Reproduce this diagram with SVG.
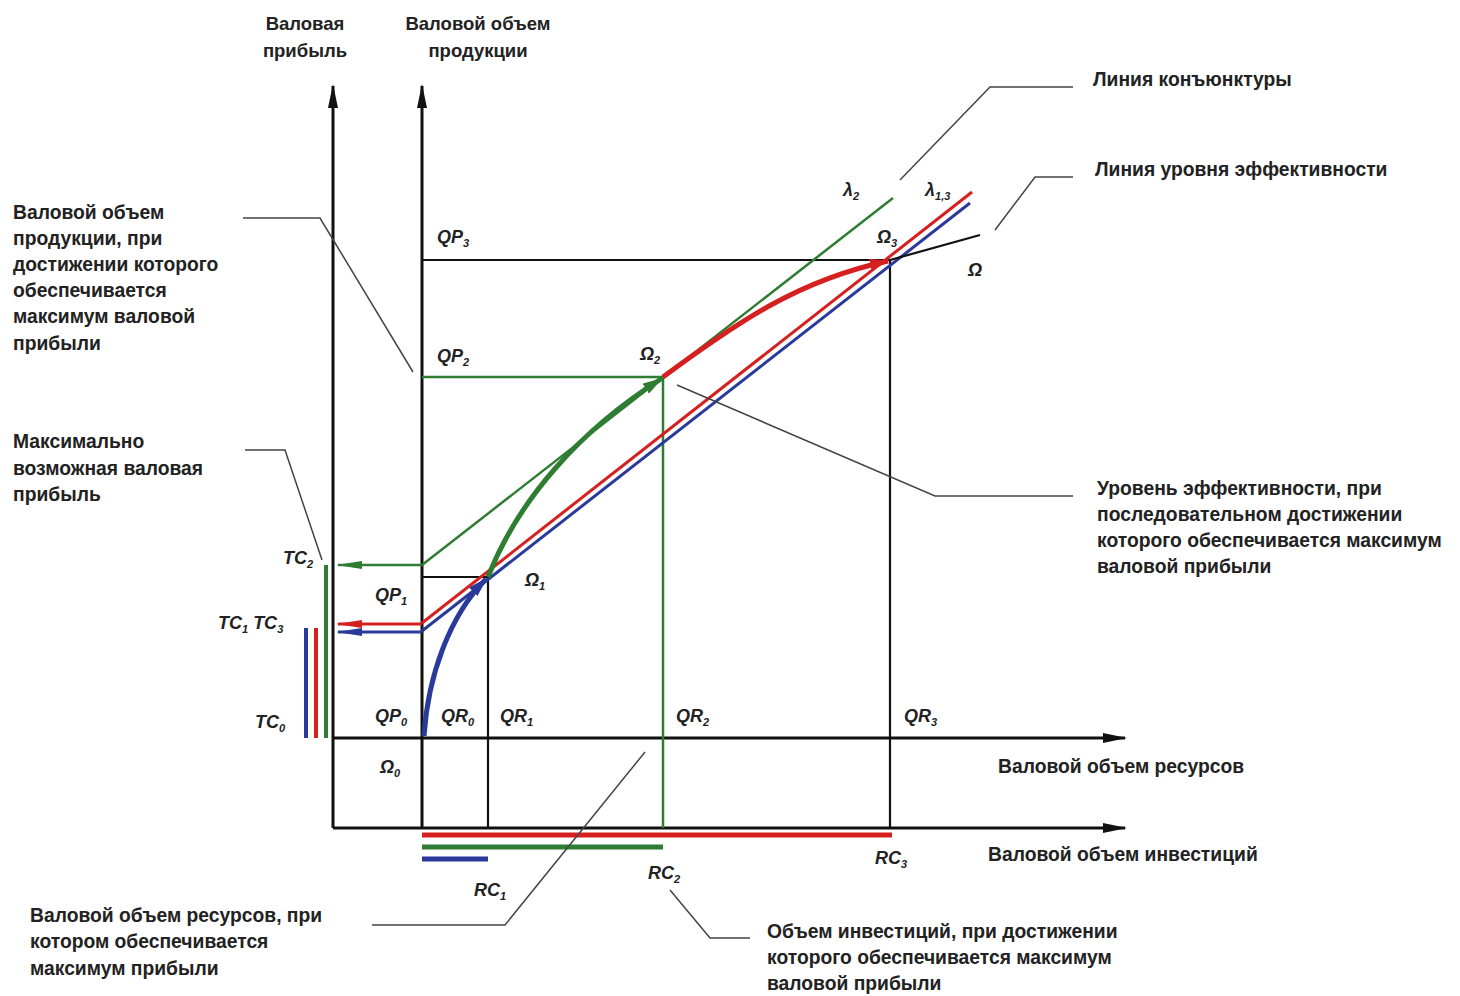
<svg xmlns="http://www.w3.org/2000/svg" width="1460" height="996" viewBox="0 0 1460 996">
<style>
.t{font-family:"Liberation Sans",Arial,sans-serif;font-weight:bold;font-size:19.3px;fill:#222}
.h{font-family:"Liberation Sans",Arial,sans-serif;font-weight:bold;font-size:18.5px;fill:#222}
.l{font-family:"Liberation Sans",Arial,sans-serif;font-weight:bold;font-style:italic;font-size:18px;fill:#222}
.s{font-size:11px}
.ax{stroke:#111;stroke-width:3;fill:none}
.bk{stroke:#111;stroke-width:2.2;fill:none}
.gr{stroke:#2e7d32;stroke-width:2.5;fill:none}
.rd{stroke:#d62020;stroke-width:3;fill:none}
.bl{stroke:#2a3a9a;stroke-width:3;fill:none}
.ld{stroke:#444;stroke-width:1.5;fill:none}
</style>
<defs>
<marker id="ak" viewBox="0 0 24 10" refX="22" refY="5" markerWidth="24" markerHeight="10" markerUnits="userSpaceOnUse" orient="auto"><path d="M0,0 L24,5 L0,10 Z" fill="#111"/></marker>
<marker id="ag" viewBox="0 0 26 8" refX="24" refY="4" markerWidth="26" markerHeight="8" markerUnits="userSpaceOnUse" orient="auto"><path d="M0,0 L26,4 L0,8 Z" fill="#2e7d32"/></marker>
<marker id="ar" viewBox="0 0 26 8" refX="24" refY="4" markerWidth="26" markerHeight="8" markerUnits="userSpaceOnUse" orient="auto"><path d="M0,0 L26,4 L0,8 Z" fill="#d62020"/></marker>
<marker id="ab" viewBox="0 0 26 8" refX="24" refY="4" markerWidth="26" markerHeight="8" markerUnits="userSpaceOnUse" orient="auto"><path d="M0,0 L26,4 L0,8 Z" fill="#2a3a9a"/></marker>
<marker id="cb" viewBox="0 0 20 12" refX="18" refY="6" markerWidth="20" markerHeight="12" markerUnits="userSpaceOnUse" orient="auto"><path d="M0,0 L20,6 L0,12 Z" fill="#2a3a9a"/></marker>
<marker id="cg" viewBox="0 0 20 12" refX="18" refY="6" markerWidth="20" markerHeight="12" markerUnits="userSpaceOnUse" orient="auto"><path d="M0,0 L20,6 L0,12 Z" fill="#2e7d32"/></marker>
<marker id="cr" viewBox="0 0 20 12" refX="18" refY="6" markerWidth="20" markerHeight="12" markerUnits="userSpaceOnUse" orient="auto"><path d="M0,0 L20,6 L0,12 Z" fill="#d62020"/></marker>
</defs>

<g id="axes">
<line class="ax" x1="333" y1="828" x2="333" y2="86" marker-end="url(#ak)"/>
<line class="ax" x1="422" y1="828" x2="422" y2="86" marker-end="url(#ak)"/>
<line class="ax" x1="333" y1="738" x2="1125" y2="738" marker-end="url(#ak)"/>
<line class="ax" x1="333" y1="828" x2="1125" y2="828" marker-end="url(#ak)"/>
</g>

<g id="grid">
<line class="bk" x1="488" y1="577" x2="488" y2="828"/>
<line class="bk" x1="422" y1="577" x2="488" y2="577"/>
<line class="gr" x1="663" y1="377" x2="663" y2="828"/>
<line class="gr" x1="422" y1="377" x2="663" y2="377"/>
<line class="bk" x1="890" y1="260" x2="890" y2="828"/>
<line class="bk" x1="422" y1="260" x2="890" y2="260"/>
</g>

<g id="lines">
<line class="gr" x1="422" y1="565" x2="893" y2="198"/>
<line class="rd" x1="422" y1="623" x2="972" y2="192"/>
<line class="bl" x1="422" y1="631" x2="970" y2="203"/>
<line class="bk" x1="890" y1="260" x2="980" y2="235"/>
</g>

<g id="connectors">
<line class="gr" x1="422" y1="565" x2="338" y2="565" marker-end="url(#ag)"/>
<line class="rd" x1="422" y1="624" x2="338" y2="624" marker-end="url(#ar)"/>
<line class="bl" x1="422" y1="632" x2="338" y2="632" marker-end="url(#ab)"/>
<path d="M424,736 C428,675 450,615 486,579" stroke="#2a3a9a" stroke-width="5" fill="none" marker-end="url(#cb)"/>
<path d="M488,577 C518,500 580,430 661,379" stroke="#2e7d32" stroke-width="5" fill="none" marker-end="url(#cg)"/>
<path d="M663,377 C740,320 800,280 888,261" stroke="#d62020" stroke-width="5" fill="none" marker-end="url(#cr)"/>
</g>

<g id="bars">
<line stroke="#2e7d32" stroke-width="4" x1="326" y1="565" x2="326" y2="738"/>
<line stroke="#d62020" stroke-width="4" x1="316" y1="628" x2="316" y2="738"/>
<line stroke="#2a3a9a" stroke-width="4" x1="306" y1="628" x2="306" y2="738"/>
<line stroke="#d62020" stroke-width="5" x1="422" y1="835" x2="892" y2="835"/>
<line stroke="#2e7d32" stroke-width="5" x1="422" y1="847" x2="663" y2="847"/>
<line stroke="#2a3a9a" stroke-width="5" x1="422" y1="859" x2="488" y2="859"/>
</g>

<g id="leaders">
<polyline class="ld" points="1073,87 990,87 900,180"/>
<polyline class="ld" points="1073,177 1035,177 995,230"/>
<polyline class="ld" points="243,218 320,218 413,372"/>
<polyline class="ld" points="245,450 285,450 322,560"/>
<polyline class="ld" points="1073,496 935,496 677,385"/>
<polyline class="ld" points="372,925 505,925 645,752"/>
<polyline class="ld" points="750,938 710,938 670,890"/>
</g>

<g id="axis-labels">
<text class="h" x="305" y="30" text-anchor="middle">Валовая</text>
<text class="h" x="305" y="57" text-anchor="middle">прибыль</text>
<text class="h" x="478" y="30" text-anchor="middle">Валовой объем</text>
<text class="h" x="478" y="57" text-anchor="middle">продукции</text>
<text class="t" x="998" y="773">Валовой объем ресурсов</text>
<text class="t" x="988" y="861">Валовой объем инвестиций</text>
</g>

<g id="notes">
<text class="t" x="1093" y="86">Линия конъюнктуры</text>
<text class="t" x="1095" y="176">Линия уровня эффективности</text>
<text class="t" x="13" y="219">Валовой объем</text>
<text class="t" x="13" y="245">продукции, при</text>
<text class="t" x="13" y="271">достижении которого</text>
<text class="t" x="13" y="297">обеспечивается</text>
<text class="t" x="13" y="323">максимум валовой</text>
<text class="t" x="13" y="350">прибыли</text>
<text class="t" x="13" y="448">Максимально</text>
<text class="t" x="13" y="475">возможная валовая</text>
<text class="t" x="13" y="501">прибыль</text>
<text class="t" x="1097" y="495">Уровень эффективности, при</text>
<text class="t" x="1097" y="521">последовательном достижении</text>
<text class="t" x="1097" y="547">которого обеспечивается максимум</text>
<text class="t" x="1097" y="573">валовой прибыли</text>
<text class="t" x="30" y="922">Валовой объем ресурсов, при</text>
<text class="t" x="30" y="948">котором обеспечивается</text>
<text class="t" x="30" y="975">максимум прибыли</text>
<text class="t" x="767" y="938">Объем инвестиций, при достижении</text>
<text class="t" x="767" y="964">которого обеспечивается максимум</text>
<text class="t" x="767" y="990">валовой прибыли</text>
</g>

<g id="point-labels">
<text class="l" x="437" y="243">QP<tspan class="s" dy="4">3</tspan></text>
<text class="l" x="437" y="362">QP<tspan class="s" dy="4">2</tspan></text>
<text class="l" x="375" y="601">QP<tspan class="s" dy="4">1</tspan></text>
<text class="l" x="375" y="722">QP<tspan class="s" dy="4">0</tspan></text>
<text class="l" x="441" y="722">QR<tspan class="s" dy="4">0</tspan></text>
<text class="l" x="500" y="722">QR<tspan class="s" dy="4">1</tspan></text>
<text class="l" x="676" y="722">QR<tspan class="s" dy="4">2</tspan></text>
<text class="l" x="904" y="722">QR<tspan class="s" dy="4">3</tspan></text>
<text class="l" x="380" y="773">Ω<tspan class="s" dy="4">0</tspan></text>
<text class="l" x="525" y="586">Ω<tspan class="s" dy="4">1</tspan></text>
<text class="l" x="640" y="360">Ω<tspan class="s" dy="4">2</tspan></text>
<text class="l" x="877" y="243">Ω<tspan class="s" dy="4">3</tspan></text>
<text class="l" x="968" y="276">Ω</text>
<text class="l" x="843" y="196">λ<tspan class="s" dy="4">2</tspan></text>
<text class="l" x="925" y="196">λ<tspan class="s" dy="4">1,3</tspan></text>
<text class="l" x="283" y="564">TC<tspan class="s" dy="4">2</tspan></text>
<text class="l" x="218" y="629">TC<tspan class="s" dy="4">1</tspan><tspan dy="-4"> TC</tspan><tspan class="s" dy="4">3</tspan></text>
<text class="l" x="255" y="728">TC<tspan class="s" dy="4">0</tspan></text>
<text class="l" x="474" y="896">RC<tspan class="s" dy="4">1</tspan></text>
<text class="l" x="648" y="879">RC<tspan class="s" dy="4">2</tspan></text>
<text class="l" x="875" y="864">RC<tspan class="s" dy="4">3</tspan></text>
</g>
</svg>
